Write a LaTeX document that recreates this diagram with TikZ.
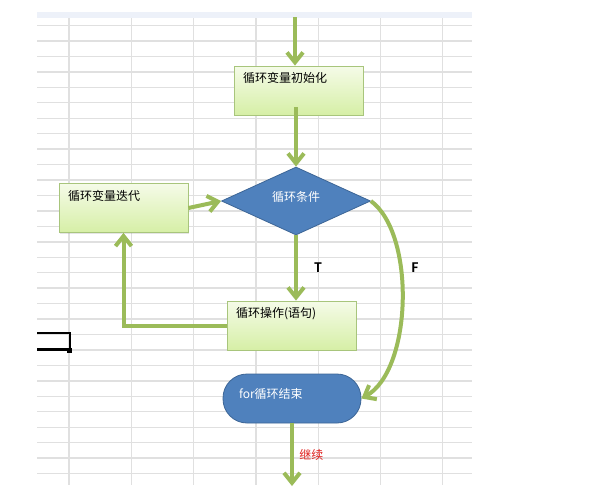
\documentclass[tikz,border=0pt]{standalone}
\usepackage{fontspec}
\usepackage{xcolor}
\usepackage{tikz}
\usetikzlibrary{calc,arrows.meta,positioning,shapes.geometric,shadows}

\newfontfamily\cjk{Noto Sans CJK SC}
\newfontfamily\tfsans{Carlito}

\definecolor{flowgreen}{HTML}{9BBB59}
\definecolor{boxtop}{HTML}{F5FBE8}
\definecolor{boxbottom}{HTML}{D6EFA6}
\definecolor{boxedge}{HTML}{A8C57C}
\definecolor{decblue}{HTML}{4F81BD}
\definecolor{decedge}{HTML}{3C6596}
\definecolor{gridline}{HTML}{E0E0E0}
\definecolor{headstrip}{HTML}{EDF1F9}
\definecolor{goonred}{HTML}{E0201E}

\begin{document}
\begin{tikzpicture}[
    x=1pt,
    y=-1pt,
    flow/.style={
        line width=4pt,
        draw=flowgreen,
        -{Straight Barb[length=10pt,width=16pt]}
    },
    actbox/.style={
        rectangle,
        draw=boxedge,
        line width=0.8pt,
        top color=boxtop,
        bottom color=boxbottom,
        drop shadow={shadow xshift=1.2pt,shadow yshift=-1.2pt,opacity=0.2},
        minimum width=129pt,
        text width=111pt,
        align=left,
        inner xsep=9pt,
        inner ysep=4pt,
        text height=12.5pt,
        text depth=28.5pt,
        font=\cjk\fontsize{12}{14}\selectfont
    },
    decision/.style={
        diamond,
        draw=decedge,
        line width=0.8pt,
        fill=decblue,
        text=white,
        minimum width=149pt,
        minimum height=68pt,
        inner sep=0pt,
        text depth=9.5pt,
        font=\cjk\fontsize{12}{14}\selectfont
    },
    endbox/.style={
        rectangle,
        rounded corners=24pt,
        draw=decedge,
        line width=0.8pt,
        fill=decblue,
        text=white,
        minimum width=138pt,
        minimum height=49pt,
        text width=106pt,
        align=left,
        inner xsep=16pt,
        text depth=9.5pt,
        font=\cjk\fontsize{12}{14}\selectfont
    },
    tflab/.style={
        font=\tfsans\bfseries\fontsize{15}{17}\selectfont
    }
]

\useasboundingbox (0,0) rectangle (598,498);

% ---------------------------------------------------------
% Sheet background
% ---------------------------------------------------------

\fill[white] (0,0) rectangle (598,498);
\fill[headstrip] (37,12) rectangle (472,18);

\foreach \k in {0,...,29}
    \draw[gridline,line width=1.4pt]
        (37,{25.5+15.45*\k}) -- (472,{25.5+15.45*\k});

\foreach \xx in {69,131.3,193.6,255.9,318.2,380.5,442.8}
    \draw[gridline,line width=1.2pt]
        (\xx,18) -- (\xx,485);

% selected cell corner
\draw[line width=2pt] (37,333) -- (69.5,333) -- (69.5,350);
\draw[line width=3pt] (37,349.5) -- (69.5,349.5);
\fill (67,347.5) rectangle (72,352.5);

% ---------------------------------------------------------
% Steps
% ---------------------------------------------------------

\node[actbox] (init) at (298.5,90.5) {循环变量初始化};

\node[decision] (cond) at (296,201) {循环条件};

\node[actbox] (iter) at (123.5,208) {循环变量迭代};

\node[actbox] (ops) at (291.5,325.5) {循环操作(语句)};

\node[endbox] (stop) at (292,398.5) {for循环结束};

% ---------------------------------------------------------
% Connectors
% ---------------------------------------------------------

\coordinate (entry) at (295,17);
\coordinate (exit) at (292,486);

\draw[flow]
    (entry) -- (init.north -| entry);

\draw[flow]
    ($(init.south -| cond.north)+(0,-8)$) -- (cond.north);

% true branch
\draw[flow]
    (cond.south) -- (ops.north -| cond.south)
    node[midway,right=13pt,tflab] (tlab) {T};

% back to the iteration step
\draw[flow]
    (ops.west) -| (iter.south);

\draw[flow]
    (iter.east) -- (cond.west);

% false branch
\draw[flow]
    (cond.east) .. controls +(45,33) and +(51,-28) .. (stop.east);

\node[tflab] (flab) at (415,268) {F};

\draw[flow]
    (stop.south) -- (exit)
    node[midway,right=2pt,text=goonred,font=\cjk\fontsize{12}{14}\selectfont]
    (goon) {继续};

\end{tikzpicture}
\end{document}
